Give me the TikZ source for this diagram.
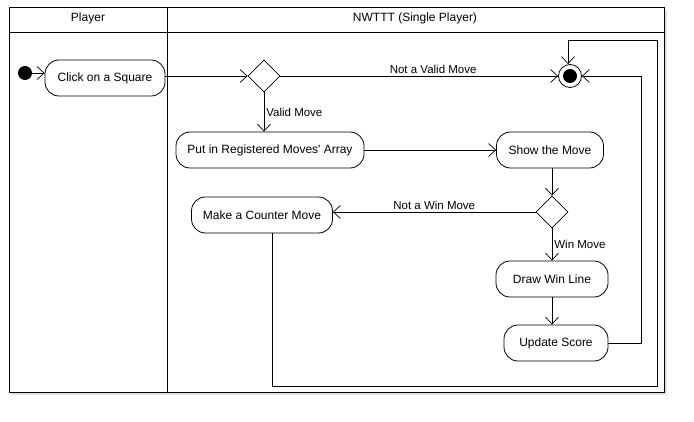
\documentclass[tikz,border=0pt]{standalone}
\usepackage{fontspec}
\setmainfont{Liberation Sans}
\usetikzlibrary{shapes.geometric,arrows.meta}

\tikzset{
  action/.style={draw, line width=0.8pt, rounded corners=14pt,
    minimum height=36pt, inner sep=0pt, fill=white},
  choice/.style={draw, line width=0.8pt, diamond, aspect=1,
    minimum width=32pt, minimum height=32pt, inner sep=0pt, fill=white},
  flow/.style={line width=0.7pt, -{Straight Barb[length=7pt,width=13pt]}},
  lane/.style={line width=1pt},
  lbl/.style={font=\fontsize{11.5}{13}\selectfont, inner sep=2pt},
}

\begin{document}
\begin{tikzpicture}[x=1pt, y=-1pt, font=\fontsize{12}{14}\selectfont]
\useasboundingbox (0,0) rectangle (694,422);

% swimlanes
\path[draw, black!12, line width=2pt] (11,394) -- (666,394) -- (666,10);
\path[draw, lane] (9,8) rectangle (664,392);
\draw[lane] (9,33) -- (664,33);
\draw[lane] (167,8) -- (167,392);
\node (hplayer) at (88,18) {Player};
\node (hgame) at (415,18) {NWTTT (Single Player)};

% nodes
\node[circle, fill=black, inner sep=0pt, minimum size=14pt] (start) at (25,73) {};
\node[action, minimum width=120pt] (click) at (105,78) {Click on a Square};
\node[choice] (d1) at (264,76) {};
\node[circle, draw, line width=0.8pt, inner sep=0pt, minimum size=23pt] (final) at (570,76) {};
\fill (final) circle (7pt);

\node[action, minimum width=188pt] (put) at (270,150) {Put in Registered Moves\textquotesingle\ Array};
\node[action, minimum width=107pt] (show) at (550,150) {Show the Move};
\node[choice] (d2) at (552,212) {};
\node[action, minimum width=141pt] (counter) at (262,215) {Make a Counter Move};
\node[action, minimum width=112pt] (drawwin) at (552,279) {Draw Win Line};
\node[action, minimum width=104pt] (score) at (556,343) {Update Score};

\coordinate (loopB) at (657,386);
\coordinate (loopT) at (657,40);
\coordinate (ret) at (641,76);

% connectors
\draw[flow] (start) -- (start -| click.west);
\draw[flow] (click.east |- d1) -- (d1);
\draw[flow] (d1) -- node[lbl, above, pos=0.55] {Not a Valid Move} (final);
\draw[flow] (d1) -- node[lbl, right, midway] {Valid Move} (d1 |- put.north);
\draw[flow] (put) -- (show);
\draw[flow] (show.south -| d2) -- (d2);
\draw[flow] (d2) -- node[lbl, above, midway] {Not a Win Move} (d2 -| counter.east);
\draw[flow] (d2) -- node[lbl, right, midway] {Win Move} (drawwin);
\draw[flow] (drawwin) -- (drawwin |- score.north);
\draw[flow] (score.east) -| (ret) -- (final);
\draw[flow] ([xshift=10pt]counter.south) |- (loopB) -- (loopT) -| ([xshift=-2pt]final.north);
\end{tikzpicture}
\end{document}
